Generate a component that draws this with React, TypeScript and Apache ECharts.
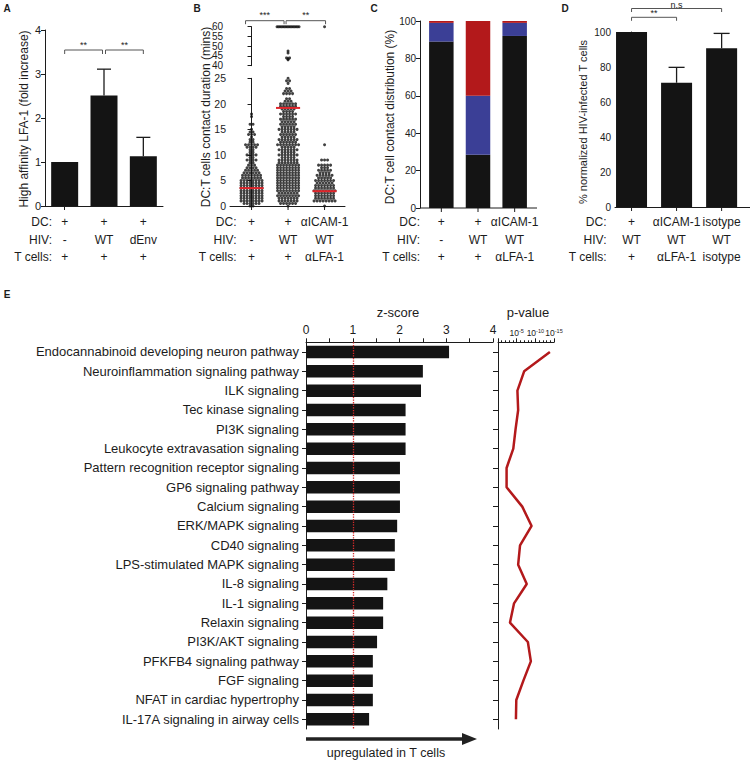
import React, { useEffect, useRef } from 'react';
import * as echarts from 'echarts';

const FONT = '"Liberation Sans", Arial, Helvetica, sans-serif';
const INK = '#1c1c1c';
const BAR = '#141414';
const BLUE = '#3b3f96';
const RED = '#b3191b';
const MEDIAN = '#e0262c';

// ---------- Panel A : high affinity LFA-1 ----------
const conditionsA = ['DC', 'DC+HIV WT', 'DC+HIV dEnv'];
const dcA = ['+', '+', '+'];
const hivA = ['-', 'WT', 'dEnv'];
const tcellsA = ['+', '+', '+'];
const lfaFoldA = [1.0, 2.51, 1.13];
const lfaErrTopA = [1.0, 3.11, 1.56];
const sigA: [number, number, string][] = [[0, 1, '**'], [1, 2, '**']];

// ---------- Panel B : contact duration (min) -> number of cells ----------
const dcB = ['+', '+', 'αICAM-1'];
const hivB = ['-', 'WT', 'WT'];
const tcellsB = ['+', '+', 'αLFA-1'];
const upperTicksB = [40, 45, 50, 55, 60];
const medianB = [3.5, 19.2, 2.9];
const contactsB1 = [
  [0, 2], [0.5, 6], [1, 8], [1.5, 8], [2, 8], [2.5, 8], [3, 8], [3.5, 8], [4, 8], [4.5, 8],
  [5, 8], [5.5, 7], [6, 7], [6.5, 6], [7, 5], [7.5, 4], [8, 3], [8.5, 2], [9, 4], [9.5, 2],
  [10, 4], [10.5, 2], [11, 2], [11.5, 4], [12, 5], [12.5, 2], [13, 2], [13.5, 1], [14, 3],
  [14.5, 2], [15, 1], [16, 2], [17.5, 1], [18, 1],
];
const contactsB2 = [
  [0, 1], [0.5, 6], [1, 7], [1.5, 7], [2, 8], [2.5, 7], [3, 8], [3.5, 8], [4, 8], [4.5, 8],
  [5, 8], [5.5, 8], [6, 8], [6.5, 8], [7, 8], [7.5, 8], [8, 8], [8.5, 7], [9, 7], [9.5, 5],
  [10, 7], [10.5, 5], [11, 7], [11.5, 5], [12, 8], [12.5, 6], [13, 7], [13.5, 5], [14, 6],
  [14.5, 5], [15, 7], [15.5, 5], [16, 6], [16.5, 5], [17, 6], [17.5, 4], [18, 6], [18.5, 4],
  [19, 5], [19.5, 6], [20, 6], [20.5, 3], [21, 2], [22, 4], [22.5, 3], [23, 2], [24, 1],
  [24.5, 2], [25, 1], [43, 1], [43.5, 1], [44, 2], [46.5, 1], [47.5, 1], [60, 16],
];
const contactsB3 = [
  [0, 1], [1, 8], [1.5, 7], [2, 7], [2.5, 7], [3, 8], [3.5, 7], [4, 7], [4.5, 6], [5, 7],
  [5.5, 5], [6, 6], [6.5, 4], [7, 5], [7.5, 3], [8, 5], [9, 3], [12, 1], [60, 1],
];
const sigB: [number, number, string][] = [[0, 1, '***'], [1, 2, '**']];

// ---------- Panel C : contact distribution (%) ----------
const conditionsC = ['DC', 'DC+HIV WT', 'blocked'];
const dcC = ['+', '+', 'αICAM-1'];
const hivC = ['-', 'WT', 'WT'];
const tcellsC = ['+', '+', 'αLFA-1'];
const shortC = [89, 28.5, 92];
const midC = [10, 31.5, 7];
const longC = [1, 40, 1];

// ---------- Panel D : normalized infection (%) ----------
const dcD = ['+', 'αICAM-1', 'isotype'];
const hivD = ['WT', 'WT', 'WT'];
const tcellsD = ['+', 'αLFA-1', 'isotype'];
const infectedD = [100, 71, 90.7];
const infectedErrTopD = [100, 79.8, 99.2];
const sigD: [number, number, string][] = [[0, 1, '**'], [0, 2, 'n.s']];

// ---------- Panel E : pathways ----------
const pathways = [
  'Endocannabinoid developing neuron pathway',
  'Neuroinflammation signaling pathway',
  'ILK signaling',
  'Tec kinase signaling',
  'PI3K signaling',
  'Leukocyte extravasation signaling',
  'Pattern recognition receptor signaling',
  'GP6 signaling pathway',
  'Calcium signaling',
  'ERK/MAPK signaling',
  'CD40 signaling',
  'LPS-stimulated MAPK signaling',
  'IL-8 signaling',
  'IL-1 signaling',
  'Relaxin signaling',
  'PI3K/AKT signaling',
  'PFKFB4 signaling pathway',
  'FGF signaling',
  'NFAT in cardiac hypertrophy',
  'IL-17A signaling in airway cells',
];
const zScores = [3.06, 2.5, 2.46, 2.13, 2.13, 2.13, 2.01, 2.01, 2.01, 1.95, 1.9, 1.9, 1.74, 1.65, 1.65, 1.52, 1.43, 1.43, 1.43, 1.35];
const negLog10P = [13.9, 7.0, 5.2, 5.4, 4.7, 4.1, 2.3, 2.3, 6.5, 9.0, 5.9, 5.4, 7.7, 4.3, 3.2, 8.0, 8.8, 6.8, 4.9, 4.8];

const B_MIN = -0.59;
const B_MAX = 2.56;
const B_WIDTH = 115;

function swarm(counts: number[][], group: number): number[][] {
  const pxPerUnit = B_WIDTH / (B_MAX - B_MIN);
  const out: number[][] = [];
  counts.forEach(([v, n]) => {
    const w = Math.min(22, 3 * (n - 1));
    for (let k = 0; k < n; k++) {
      const off = n === 1 ? 0 : -w / 2 + (k * w) / (n - 1);
      out.push([group + off / pxPerUnit, v]);
    }
  });
  return out;
}

export default function App() {
  const ref = useRef<HTMLDivElement>(null);

  useEffect(() => {
    const el = ref.current!;
    const chart = echarts.init(el, undefined, { renderer: 'svg' });

    const line = { show: true, lineStyle: { color: INK, width: 1 } };
    const tick = (len: number) => ({ show: true, length: len, lineStyle: { color: INK, width: 1 } });
    const lbl = (size: number, margin = 4) => ({ fontFamily: FONT, fontSize: size, color: INK, margin });
    const hideX = { axisLine: line, axisTick: { show: false }, axisLabel: { show: false }, splitLine: { show: false } };

    const allB = [swarm(contactsB1, 0), swarm(contactsB2, 1), swarm(contactsB3, 2)].flat();
    const lowerB = allB.filter((p) => p[1] < 30);
    const upperB = allB.filter((p) => p[1] >= 30);

    const errorBar = (cap: number) => (params: any, api: any) => {
      const x = api.value(0);
      const p0 = api.coord([x, api.value(1)]);
      const p1 = api.coord([x, api.value(2)]);
      const st = { stroke: INK, lineWidth: 1.3 };
      return {
        type: 'group',
        children: [
          { type: 'line', shape: { x1: p0[0], y1: p0[1], x2: p1[0], y2: p1[1] }, style: st },
          { type: 'line', shape: { x1: p1[0] - cap, y1: p1[1], x2: p1[0] + cap, y2: p1[1] }, style: st },
        ],
      };
    };

    const option: any = {
      animation: false,
      backgroundColor: '#ffffff',
      textStyle: { fontFamily: FONT },
      grid: [
        { left: 45, top: 30, width: 118, height: 176 },
        { left: 230, top: 78.3, width: B_WIDTH, height: 127.7 },
        { left: 230, top: 26.7, width: B_WIDTH, height: 39 },
        { left: 423, top: 21, width: 110, height: 187 },
        { left: 615, top: 32, width: 135, height: 175 },
        { left: 306, top: 342.3, width: 187, height: 386.7 },
        { left: 498, top: 342.3, width: 56, height: 386.7 },
      ],
      xAxis: [
        { gridIndex: 0, type: 'category', data: conditionsA, axisLine: line, axisTick: { ...tick(4), alignWithLabel: true }, axisLabel: { show: false }, splitLine: { show: false } },
        { gridIndex: 1, type: 'value', min: B_MIN, max: B_MAX, ...hideX },
        { gridIndex: 2, type: 'value', min: B_MIN, max: B_MAX, show: false },
        { gridIndex: 3, type: 'category', data: conditionsC, axisLine: { show: false }, axisTick: { show: false }, axisLabel: { show: false }, splitLine: { show: false } },
        { gridIndex: 4, type: 'value', min: -0.367, max: 2.63, ...hideX },
        {
          gridIndex: 5, type: 'value', position: 'top', min: 0, max: 4, interval: 0.5,
          axisLine: line, axisTick: tick(4), splitLine: { show: false },
          axisLabel: { ...lbl(12, 6), formatter: (v: number) => (Number.isInteger(v) ? String(v) : '') },
        },
        {
          gridIndex: 6, type: 'value', position: 'top', min: 0, max: 15, interval: 5,
          axisLine: line, axisTick: tick(4), minorTick: { show: true, splitNumber: 5, length: 2, lineStyle: { color: INK } },
          splitLine: { show: false }, minorSplitLine: { show: false },
          axisLabel: {
            margin: 4,
            formatter: (v: number) => (v === 0 ? '' : `{b|10}{s|-${v}}`),
            rich: {
              b: { fontFamily: FONT, fontSize: 8.5, color: INK },
              s: { fontFamily: FONT, fontSize: 5.5, color: INK, verticalAlign: 'top', padding: [0, 0, 4, 0] },
            },
          },
        },
      ],
      yAxis: [
        { gridIndex: 0, type: 'value', min: 0, max: 4, interval: 1, axisLine: line, axisTick: tick(4), axisLabel: lbl(11), splitLine: { show: false } },
        { gridIndex: 1, type: 'value', min: 0, max: 25, interval: 5, axisLine: line, axisTick: tick(4), axisLabel: { ...lbl(10.5), lineHeight: 10 }, splitLine: { show: false } },
        {
          gridIndex: 2, type: 'value', min: 40, max: 60, interval: 5, axisLine: line, axisTick: tick(4),
          axisLabel: { show: false }, splitLine: { show: false },
        },
        { gridIndex: 3, type: 'value', min: 0, max: 100, interval: 20, offset: 3, axisLine: line, axisTick: tick(4), axisLabel: lbl(10), splitLine: { show: false } },
        { gridIndex: 4, type: 'value', min: 0, max: 100, interval: 20, axisLine: line, axisTick: tick(4), axisLabel: lbl(10), splitLine: { show: false } },
        {
          gridIndex: 5, type: 'category', inverse: true, data: pathways,
          axisLine: line, axisTick: { ...tick(4), alignWithLabel: true }, axisLabel: lbl(13, 7), splitLine: { show: false },
        },
        {
          gridIndex: 6, type: 'category', inverse: true, data: pathways,
          axisLine: line, axisTick: { ...tick(5), alignWithLabel: true }, axisLabel: { show: false }, splitLine: { show: false },
        },
      ],
      series: [
        { type: 'bar', xAxisIndex: 0, yAxisIndex: 0, data: lfaFoldA, barWidth: 27, itemStyle: { color: BAR } },
        {
          type: 'custom', xAxisIndex: 0, yAxisIndex: 0, z: 5,
          data: lfaFoldA.map((m, i) => [i, m, lfaErrTopA[i]]).filter((d) => d[2] > d[1]),
          renderItem: errorBar(7),
        },
        { type: 'scatter', xAxisIndex: 1, yAxisIndex: 1, data: lowerB, symbol: 'circle', symbolSize: 3, itemStyle: { color: '#111' } },
        { type: 'scatter', xAxisIndex: 2, yAxisIndex: 2, data: upperB, symbol: 'circle', symbolSize: 3, itemStyle: { color: '#111' } },
        {
          type: 'custom', xAxisIndex: 1, yAxisIndex: 1, z: 6,
          data: medianB.map((m, i) => [i, m]),
          renderItem: (params: any, api: any) => {
            const a = api.coord([api.value(0) - 0.33, api.value(1)]);
            const b = api.coord([api.value(0) + 0.33, api.value(1)]);
            return { type: 'line', shape: { x1: a[0], y1: a[1], x2: b[0], y2: b[1] }, style: { stroke: MEDIAN, lineWidth: 2 } };
          },
        },
        { type: 'bar', xAxisIndex: 3, yAxisIndex: 3, stack: 'C', data: shortC, barWidth: 24.5, itemStyle: { color: BAR } },
        { type: 'bar', xAxisIndex: 3, yAxisIndex: 3, stack: 'C', data: midC, barWidth: 24.5, itemStyle: { color: BLUE } },
        { type: 'bar', xAxisIndex: 3, yAxisIndex: 3, stack: 'C', data: longC, barWidth: 24.5, itemStyle: { color: RED } },
        { type: 'bar', xAxisIndex: 4, yAxisIndex: 4, data: infectedD.map((v, i) => [i, v]), barWidth: 31, itemStyle: { color: BAR } },
        {
          type: 'custom', xAxisIndex: 4, yAxisIndex: 4, z: 5,
          data: infectedD.map((m, i) => [i, m, infectedErrTopD[i]]).filter((d) => d[2] > d[1]),
          renderItem: errorBar(8),
        },
        {
          type: 'bar', xAxisIndex: 5, yAxisIndex: 5, data: zScores, barWidth: 12.5, itemStyle: { color: BAR },
          markLine: {
            silent: true, symbol: 'none', label: { show: false },
            lineStyle: { color: '#d42a2a', type: 'dotted', width: 1.3 },
            data: [{ xAxis: 1 }],
          },
        },
        {
          type: 'line', xAxisIndex: 6, yAxisIndex: 6, data: negLog10P, symbol: 'none',
          lineStyle: { color: RED, width: 2.5 },
        },
      ],
    };

    chart.setOption(option);

    const px = (gi: number, x: number, y: number) => chart.convertToPixel({ gridIndex: gi } as any, [x, y]) as number[];
    const txt = (x: number, y: number, t: string, o: any = {}) => ({
      type: 'text', x, y, silent: true, rotation: o.rotation || 0,
      style: {
        text: t, fontFamily: FONT, fontSize: o.size || 12, fontWeight: o.weight || 'normal', fill: INK,
        align: o.align || 'center', verticalAlign: 'middle', textAlign: o.align || 'center', textVerticalAlign: 'middle',
      },
    });
    const seg = (x1: number, y1: number, x2: number, y2: number, w = 1, c = INK) => ({
      type: 'line', silent: true, shape: { x1, y1, x2, y2 }, style: { stroke: c, lineWidth: w },
    });

    const g: any[] = [];
    // panel letters
    g.push(txt(7, 8, 'A', { size: 10, weight: 'bold' }));
    g.push(txt(197, 8, 'B', { size: 10, weight: 'bold' }));
    g.push(txt(374, 8, 'C', { size: 10, weight: 'bold' }));
    g.push(txt(565, 8, 'D', { size: 10, weight: 'bold' }));
    g.push(txt(7, 294, 'E', { size: 10, weight: 'bold' }));

    // panel B upper (broken) axis tick labels
    upperTicksB.forEach((v) => {
      const p = px(2, B_MIN, v);
      g.push(txt(p[0] - 7, p[1], String(v), { size: 10, align: 'right' }));
    });

    // panel C baseline (spans from the y axis to the right end)
    const c0 = px(3, 0, 0);
    g.push(seg(420, c0[1], 537, c0[1]));

    // condition rows
    const rowsY = [222, 239.5, 256.5];
    const heads = ['DC:', 'HIV:', 'T cells:'];
    const panels = [
      { gi: 0, hx: 52, rows: [dcA, hivA, tcellsA], ticks: false },
      { gi: 1, hx: 236.5, rows: [dcB, hivB, tcellsB], ticks: true },
      { gi: 3, hx: 420, rows: [dcC, hivC, tcellsC], ticks: true },
      { gi: 4, hx: 606.5, rows: [dcD, hivD, tcellsD], ticks: true },
    ];
    panels.forEach((p) => {
      heads.forEach((h, r) => g.push(txt(p.hx, rowsY[r], h, { align: 'right' })));
      p.rows[0].forEach((_: string, i: number) => {
        const base = px(p.gi, i, 0);
        p.rows.forEach((row, r) => g.push(txt(base[0], rowsY[r], row[i])));
        if (p.ticks) g.push(seg(base[0], base[1], base[0], base[1] + 4));
      });
    });

    // y axis titles
    g.push(txt(24, 119, 'High affinity LFA-1 (fold increase)', { rotation: Math.PI / 2 }));
    g.push(txt(206, 117, 'DC:T cells contact duration (mins)', { rotation: Math.PI / 2 }));
    g.push(txt(390, 117, 'DC:T cell contact distribution (%)', { rotation: Math.PI / 2 }));
    g.push(txt(583, 122, '% normalized HIV-infected T cells', { rotation: Math.PI / 2, size: 11 }));

    // significance brackets
    const bracket = (gi: number, a: number, b: number, y: number, label: string, drop: number, insetA: number, insetB: number, ly: number) => {
      const x1 = px(gi, a, 0)[0] + insetA;
      const x2 = px(gi, b, 0)[0] - insetB;
      g.push({
        type: 'polyline', silent: true,
        shape: { points: [[x1, y + drop], [x1, y], [x2, y], [x2, y + drop]] },
        style: { stroke: '#555', lineWidth: 1, fill: 'none' },
      });
      g.push(txt((x1 + x2) / 2, ly, label, { size: 9 }));
    };
    sigA.forEach(([a, b, l], k) => bracket(0, a, b, 50, l, 4, k === 0 ? 0 : 1.5, k === 0 ? 1.5 : 0, 45));
    sigB.forEach(([a, b, l], k) => bracket(1, a, b, 20.7, l, 3.5, k === 0 ? -6 : -2, k === 0 ? 4 : -1, 15));
    sigD.forEach(([a, b, l], k) => bracket(4, a, b, k === 0 ? 17.3 : 8.5, l, 3.5, 0, 0, k === 0 ? 13 : 4.5));

    // panel E titles and arrow
    g.push(txt(398, 312, 'z-score', { size: 13 }));
    g.push(txt(528, 312, 'p-value', { size: 13 }));
    g.push(seg(306, 739, 465, 739, 3.5, '#222'));
    g.push({ type: 'polygon', silent: true, shape: { points: [[462, 733], [477, 739], [462, 745]] }, style: { fill: '#222' } });
    g.push(txt(386, 753, 'upregulated in T cells', { size: 12.5 }));

    chart.setOption({ graphic: g });

    return () => chart.dispose();
  }, []);

  return (
    <div
      ref={ref}
      style={{ position: 'absolute', left: 0, top: 0, width: 750, height: 761, background: '#fff' }}
    />
  );
}
